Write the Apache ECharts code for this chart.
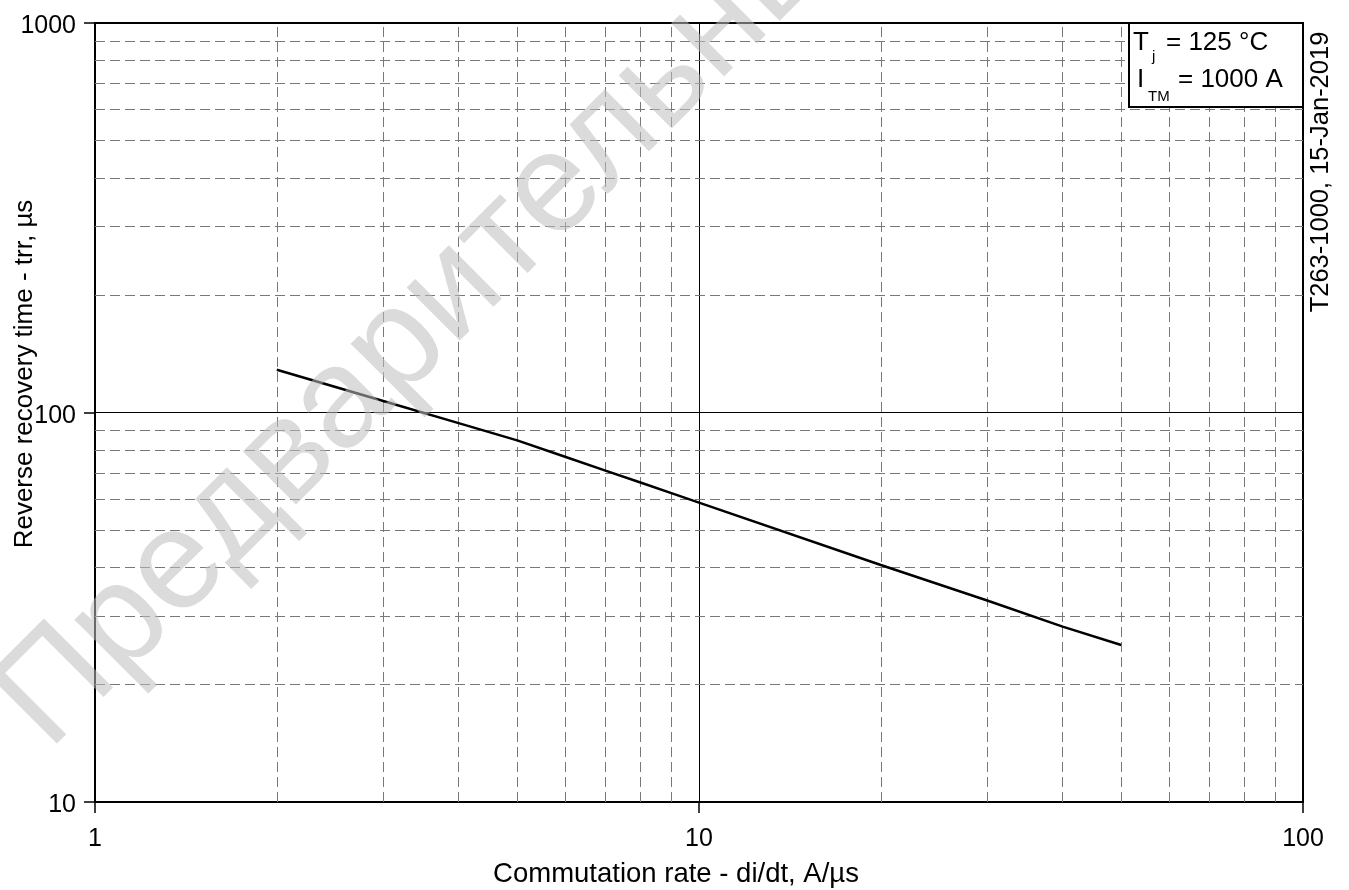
<!DOCTYPE html>
<html>
<head>
<meta charset="utf-8">
<script src="https://cdn.jsdelivr.net/npm/echarts@6/dist/echarts.min.js"></script>
<style>
html,body{margin:0;padding:0;background:#fff;}
#chart{width:1349px;height:890px;}
</style>
</head>
<body>
<div id="chart"></div>
<script>
// ---- data ----
const rate = [2, 3, 4, 5, 6, 7, 8, 9, 10, 20, 30, 40, 50];            // di/dt, A/µs
const trr  = [128.7, 107, 93.9, 84.8, 77.0, 70.9, 66.1, 62.1, 58.7, 40.6, 32.9, 28.2, 25.3]; // µs
const xMinor = [2, 3, 4, 5, 6, 7, 8, 9, 20, 30, 40, 50, 60, 70, 80, 90];
const yMinor = [20, 30, 40, 50, 60, 70, 80, 90, 200, 300, 400, 500, 600, 700, 800, 900];
const xRange = [1, 100];
const yRange = [10, 1000];
const xTitle = 'Commutation rate - di/dt, A/µs';
const yTitle = 'Reverse recovery time - trr, µs';
const sideNote = 'T263-1000, 15-Jan-2019';
const watermark = 'Предварительные';

const FONT = '"Liberation Sans", Arial, sans-serif';
const chart = echarts.init(document.getElementById('chart'), null, {renderer: 'canvas'});

const axisCommon = {
  type: 'log', logBase: 10,
  axisLine: {show: true, onZero: false, lineStyle: {color: '#000', width: 2}},
  axisTick: {show: true, length: 11, inside: false, lineStyle: {color: '#000', width: 1.5}},
  splitLine: {show: true, lineStyle: {color: '#000', width: 1}},
  minorTick: {show: false}, minorSplitLine: {show: false}
};

const option = {
  animation: false,
  backgroundColor: '#fff',
  grid: {left: 95, right: 46, top: 23, bottom: 88, show: true, borderColor: '#000', borderWidth: 2, backgroundColor: 'transparent'},
  xAxis: Object.assign({}, axisCommon, {
    min: xRange[0], max: xRange[1],
    axisLabel: {show: true, margin: 25, fontSize: 25, color: '#000', fontFamily: FONT, showMinLabel: true, showMaxLabel: true,
      formatter: v => String(v)}
  }),
  yAxis: Object.assign({}, axisCommon, {
    min: yRange[0], max: yRange[1],
    axisLabel: {show: true, margin: 19, color: '#000', showMinLabel: true, showMaxLabel: true,
      formatter: v => '{a|' + v + '}',
      rich: {a: {fontSize: 25, fontFamily: FONT, color: '#000', padding: [7, 0, 0, 0]}}}
  }),
  series: [
    {
      type: 'line', data: [], z: 1, silent: true,
      markLine: {
        silent: true, symbol: ['none', 'none'], animation: false,
        label: {show: false},
        lineStyle: {type: [10, 5], color: '#787878', width: 1},
        emphasis: {disabled: true},
        data: xMinor.map(v => ({xAxis: v})).concat(yMinor.map(v => ({yAxis: v})))
      }
    },
    {
      type: 'line', z: 5, symbol: 'none', smooth: false,
      lineStyle: {color: '#000', width: 2.5},
      data: rate.map((r, i) => [r, trr[i]])
    }
  ],
  graphic: [
    {
      type: 'text', x: 21, y: 724, rotation: Math.PI / 4, z: 100, silent: true,
      style: {text: watermark, font: '142px ' + FONT, fill: 'rgba(190,190,190,0.55)', align: 'left', verticalAlign: 'middle'}
    },
    {
      type: 'text', x: 25, y: 374, rotation: Math.PI / 2, z: 50,
      style: {text: yTitle, font: '26px ' + FONT, fill: '#000', align: 'center', verticalAlign: 'middle'}
    },
    {
      type: 'text', x: 676, y: 874, z: 50,
      style: {text: xTitle, font: '27.5px ' + FONT, fill: '#000', align: 'center', verticalAlign: 'middle'}
    },
    {
      type: 'text', x: 1321, y: 172, rotation: Math.PI / 2, z: 50,
      style: {text: sideNote, font: '25.5px ' + FONT, fill: '#000', align: 'center', verticalAlign: 'middle'}
    },
    {
      type: 'rect', z: 60, shape: {x: 1129, y: 23, width: 174, height: 84},
      style: {fill: '#fff', stroke: '#000', lineWidth: 2}
    },
    {type: 'text', x: 1133, y: 43, z: 61, style: {text: 'T', font: '26px ' + FONT, fill: '#000', verticalAlign: 'middle'}},
    {type: 'text', x: 1152, y: 57, z: 61, style: {text: 'j', font: '15px ' + FONT, fill: '#000', verticalAlign: 'middle'}},
    {type: 'text', x: 1166, y: 43, z: 61, style: {text: '= 125 °C', font: '26px ' + FONT, fill: '#000', verticalAlign: 'middle'}},
    {type: 'text', x: 1137, y: 80, z: 61, style: {text: 'I', font: '26px ' + FONT, fill: '#000', verticalAlign: 'middle'}},
    {type: 'text', x: 1148, y: 97, z: 61, style: {text: 'TM', font: '15px ' + FONT, fill: '#000', verticalAlign: 'middle'}},
    {type: 'text', x: 1178, y: 80, z: 61, style: {text: '= 1000 A', font: '26px ' + FONT, fill: '#000', verticalAlign: 'middle'}}
  ]
};
chart.setOption(option);
</script>
</body>
</html>
